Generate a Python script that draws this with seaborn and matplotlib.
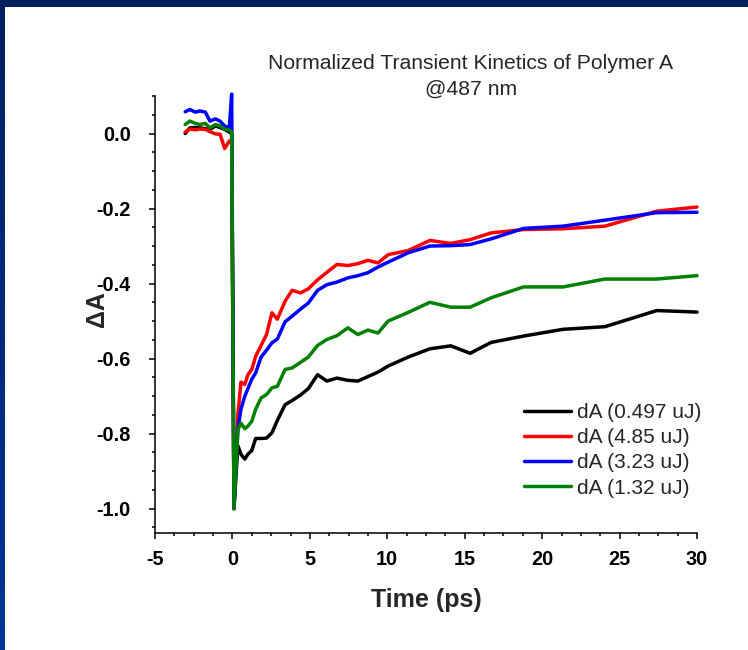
import numpy as np
import pandas as pd
import matplotlib
matplotlib.use("Agg")
import matplotlib.pyplot as plt
from matplotlib.ticker import MultipleLocator
from matplotlib.patches import Rectangle
from matplotlib.colors import LinearSegmentedColormap
import seaborn as sns

# Delay times (ps) shared by all four kinetic traces
time_ps = [-3.05, -2.75, -2.4, -2.1, -1.75, -1.45, -1.1, -0.8, -0.5, -0.2, -0.05,
           0.1, 0.35, 0.55, 0.8, 1.0, 1.25, 1.5, 1.85, 2.2, 2.55, 2.9, 3.4, 3.85,
           4.4, 4.9, 5.5, 6.1, 6.75, 7.45, 8.1, 8.75, 9.4, 10.05, 11.35, 12.75,
           14.1, 15.35, 16.7, 18.8, 21.35, 24.05, 27.4, 30.0]

# Normalized transient absorption at 487 nm for each pump energy
dA_0497 = [0.0, 0.015, 0.016, 0.015, 0.013, 0.011, 0.02, 0.016, 0.011, 0.004, 0.0,
           -1.0, -0.832, -0.855, -0.868, -0.855, -0.845, -0.813, -0.813, -0.812,
           -0.798, -0.765, -0.723, -0.712, -0.697, -0.68, -0.643, -0.66, -0.652,
           -0.658, -0.66, -0.648, -0.636, -0.62, -0.596, -0.574, -0.566, -0.586,
           -0.557, -0.54, -0.522, -0.515, -0.472, -0.476]
dA_485 = [0.004, 0.012, 0.01, 0.012, 0.011, 0.005, -0.001, -0.002, -0.04, -0.02, -0.02,
          -1.0, -0.75, -0.663, -0.669, -0.643, -0.629, -0.594, -0.565, -0.536,
          -0.478, -0.495, -0.447, -0.418, -0.425, -0.414, -0.39, -0.37, -0.349,
          -0.352, -0.347, -0.338, -0.345, -0.323, -0.312, -0.285, -0.293, -0.283,
          -0.265, -0.256, -0.254, -0.247, -0.207, -0.196]
dA_323 = [0.058, 0.064, 0.057, 0.06, 0.057, 0.033, 0.039, 0.033, 0.02, 0.015, 0.105,
          -1.0, -0.79, -0.735, -0.70, -0.68, -0.655, -0.638, -0.596, -0.578,
          -0.558, -0.548, -0.502, -0.487, -0.468, -0.452, -0.418, -0.403, -0.396,
          -0.385, -0.379, -0.371, -0.356, -0.343, -0.318, -0.30, -0.299, -0.296,
          -0.281, -0.253, -0.247, -0.231, -0.211, -0.21]
dA_132 = [0.024, 0.033, 0.027, 0.024, 0.027, 0.015, 0.024, 0.02, 0.012, 0.009, 0.005,
          -1.0, -0.79, -0.772, -0.787, -0.78, -0.767, -0.735, -0.705, -0.696,
          -0.678, -0.674, -0.629, -0.625, -0.61, -0.596, -0.565, -0.549, -0.539,
          -0.518, -0.536, -0.524, -0.532, -0.50, -0.477, -0.45, -0.463, -0.463,
          -0.438, -0.409, -0.409, -0.388, -0.388, -0.379]

series_labels = ["dA (0.497 uJ)", "dA (4.85 uJ)", "dA (3.23 uJ)", "dA (1.32 uJ)"]
series_colors = ["#000000", "#FF0000", "#0000FF", "#008000"]

x_ticks = [-5, 0, 5, 10, 15, 20, 25, 30]
x_tick_labels = ["-5", "0", "5", "10", "15", "20", "25", "30"]
y_ticks = [-1.0, -0.8, -0.6, -0.4, -0.2, 0.0]
y_tick_labels = ["-1.0", "-0.8", "-0.6", "-0.4", "-0.2", "0.0"]

title_text = "Normalized Transient Kinetics of Polymer A\n@487 nm"

sns.set_style("ticks")
plt.rcParams["font.family"] = ["Liberation Sans", "DejaVu Sans"]
plt.rcParams["axes.unicode_minus"] = False

frames = []
for label, values in zip(series_labels, [dA_0497, dA_485, dA_323, dA_132]):
    frames.append(pd.DataFrame({"time": time_ps, "dA": values, "series": label}))
df = pd.concat(frames, ignore_index=True)

W, H = 748, 650
fig = plt.figure(figsize=(W / 100, H / 100), dpi=100)
fig.patch.set_facecolor("white")

# plot area in pixel terms
left, right, top, bottom = 155, 697, 96, 533
ax = fig.add_axes([left / W, (H - bottom) / H, (right - left) / W, (bottom - top) / H])

sns.lineplot(data=df, x="time", y="dA", hue="series", hue_order=series_labels,
             palette=series_colors, linewidth=2.5, sort=False, estimator=None,
             ax=ax)
for line in ax.lines:
    line.set_clip_on(False)

ax.set_xlim(-5, 30)
ax.set_ylim(-1.065, 0.1)
ax.set_xticks(x_ticks, labels=x_tick_labels)
ax.set_yticks(y_ticks, labels=y_tick_labels)
ax.xaxis.set_minor_locator(MultipleLocator(1.25))
ax.yaxis.set_minor_locator(MultipleLocator(0.05))

sns.despine(ax=ax)
for side in ("left", "bottom"):
    ax.spines[side].set_linewidth(1.1)
    ax.spines[side].set_color("black")

ax.tick_params(axis="both", which="major", direction="out", length=4.5, width=1.1,
               color="black", labelsize=14.3, labelcolor="black")
ax.tick_params(axis="both", which="minor", direction="out", length=2.5, width=1.1,
               color="black")
ax.tick_params(axis="y", which="major", pad=13)
ax.tick_params(axis="x", which="major", pad=8)
for lab in ax.get_xticklabels() + ax.get_yticklabels():
    lab.set_fontweight("bold")

ax.set_xlabel("Time (ps)", fontsize=18, fontweight="bold")
ax.set_ylabel("ΔA", fontsize=18, fontweight="bold")
ax.xaxis.set_label_coords(0.5, -0.126)
ax.yaxis.set_label_coords(-0.085, 0.512)

handles, labels = ax.get_legend_handles_labels()
ax.legend(handles=handles, labels=labels, frameon=False, loc="upper left",
          bbox_to_anchor=((524 - left) / (right - left), (bottom - 403) / (bottom - top)),
          borderpad=0, borderaxespad=0, fontsize=15, handlelength=2.26,
          handletextpad=0.3, labelspacing=0.3)
for h in ax.get_legend().get_lines():
    h.set_linewidth(2.5)

fig.suptitle(title_text, x=471 / W, y=1 - 54 / H, va="top", ha="center",
             fontsize=15.2, linespacing=1.45)

# dark blue frame along the top and left edges
fig.patches.append(Rectangle((0, 1 - 7 / H), 1, 7 / H, transform=fig.transFigure,
                             facecolor="#002060", edgecolor="none", zorder=10))
bar = fig.add_axes([0, 0, 5 / W, 1 - 7 / H])
grad = np.linspace(0, 1, 256).reshape(-1, 1)
cmap = LinearSegmentedColormap.from_list("edge", ["#003399", "#002060"])
bar.imshow(grad, aspect="auto", cmap=cmap, origin="lower")
bar.set_axis_off()

fig.savefig("out.png", dpi=100)
